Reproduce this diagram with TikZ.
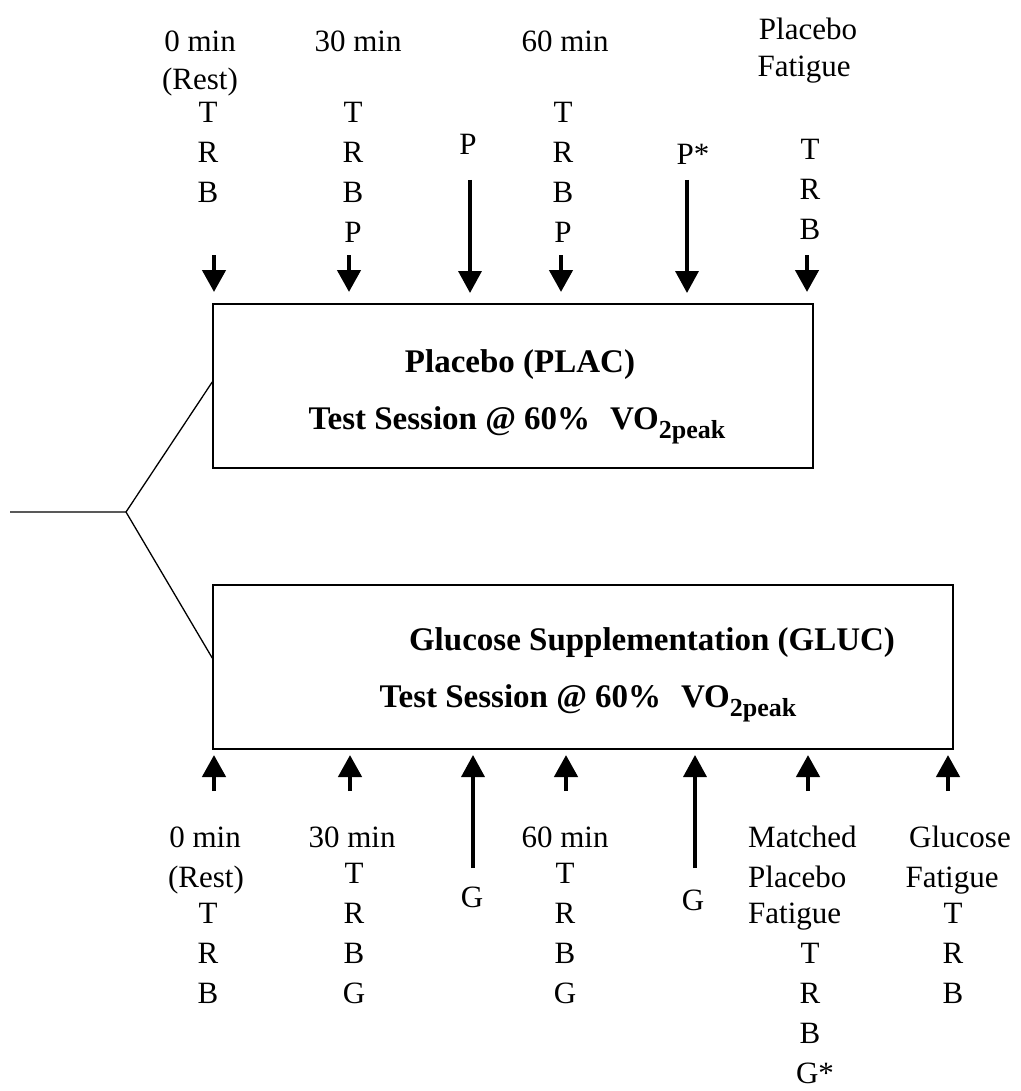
\documentclass[tikz,border=0pt]{standalone}
\usepackage{fontspec}
\setmainfont{Liberation Serif}
\usetikzlibrary{arrows.meta}
\newcommand{\vopeak}{VO\raisebox{-9pt}{\fontsize{26}{26}\selectfont 2peak}}
\begin{document}
\begin{tikzpicture}[x=1pt,y=-1pt,
  lbl/.style={inner sep=0pt, anchor=base, font=\fontsize{31}{40}\selectfont},
  lbll/.style={lbl, anchor=base west},
  boxtxt/.style={inner sep=0pt, font=\fontsize{33}{40}\selectfont\bfseries},
  sessbox/.style={draw, line width=1.5pt, inner sep=0pt},
  sarrow/.style={line width=4.5pt, -{Triangle[width=23pt,length=22pt]}},
  larrow/.style={line width=3.5pt, -{Triangle[width=23pt,length=22pt]}},
  branch/.style={line width=1.3pt}]
\useasboundingbox (0,0) rectangle (1020,1091);

% boxes
\node[sessbox, minimum width=600pt, minimum height=164pt] (plac) at (513,386) {};
\node[sessbox, minimum width=740pt, minimum height=164pt] (gluc) at (583,667) {};
\node[boxtxt] (plactitle) at (520,365) {Placebo (PLAC)};
\node[boxtxt] (plactest) at (517,425) {Test Session @ 60\%\hspace{0.6em}\vopeak};
\node[boxtxt] (gluctitle) at (652,643) {Glucose Supplementation (GLUC)};
\node[boxtxt] (gluctest) at (588,703) {Test Session @ 60\%\hspace{0.6em}\vopeak};

% branch
\coordinate (stem) at (10,512);
\coordinate (fork) at (126,512);
\draw[branch] (stem) -- (fork) -- ([yshift=4pt]plac.west);
\draw[branch] (fork) -- ([yshift=9pt]gluc.west);

% top labels
\node[lbl] (a0) at (200,52) {0 min};
\node[lbl] (a0r) at (200,90) {(Rest)};
\node[lbl] (a0t) at (208,123) {T};
\node[lbl] (a0rr) at (208,163) {R};
\node[lbl] (a0b) at (208,203) {B};

\node[lbl] (a30) at (358,52) {30 min};
\node[lbl] (a30t) at (353,123) {T};
\node[lbl] (a30r) at (353,163) {R};
\node[lbl] (a30b) at (353,203) {B};
\node[lbl] (a30p) at (353,243) {P};

\node[lbl] (ap) at (468,155) {P};

\node[lbl] (a60) at (565,52) {60 min};
\node[lbl] (a60t) at (563,123) {T};
\node[lbl] (a60r) at (563,163) {R};
\node[lbl] (a60b) at (563,203) {B};
\node[lbl] (a60p) at (563,243) {P};

\node[lbl] (aps) at (693,165) {P*};

\node[lbl] (apf1) at (808,40) {Placebo};
\node[lbl] (apf2) at (804,77) {Fatigue};
\node[lbl] (apft) at (810,160) {T};
\node[lbl] (apfr) at (810,200) {R};
\node[lbl] (apfb) at (810,240) {B};

% top arrows
\coordinate (t0s) at (214,255);  \coordinate (t0e) at (214,292);
\coordinate (t30s) at (349,255); \coordinate (t30e) at (349,292);
\coordinate (tps) at (470,180);  \coordinate (tpe) at (470,293);
\coordinate (t60s) at (561,255); \coordinate (t60e) at (561,292);
\coordinate (tpss) at (687,180); \coordinate (tpse) at (687,293);
\coordinate (tfs) at (807,255);  \coordinate (tfe) at (807,292);
\draw[sarrow] (t0s) -- (t0e);
\draw[sarrow] (t30s) -- (t30e);
\draw[larrow] (tps) -- (tpe);
\draw[sarrow] (t60s) -- (t60e);
\draw[larrow] (tpss) -- (tpse);
\draw[sarrow] (tfs) -- (tfe);

% bottom arrows
\coordinate (b0s) at (214,791);  \coordinate (b0e) at (214,755);
\coordinate (b30s) at (350,791); \coordinate (b30e) at (350,755);
\coordinate (bgs) at (473,868);  \coordinate (bge) at (473,755);
\coordinate (b60s) at (566,791); \coordinate (b60e) at (566,755);
\coordinate (bg2s) at (695,868); \coordinate (bg2e) at (695,755);
\coordinate (bms) at (808,791);  \coordinate (bme) at (808,755);
\coordinate (bfs) at (948,791);  \coordinate (bfe) at (948,755);
\draw[sarrow] (b0s) -- (b0e);
\draw[sarrow] (b30s) -- (b30e);
\draw[larrow] (bgs) -- (bge);
\draw[sarrow] (b60s) -- (b60e);
\draw[larrow] (bg2s) -- (bg2e);
\draw[sarrow] (bms) -- (bme);
\draw[sarrow] (bfs) -- (bfe);

% bottom labels
\node[lbl] (c0) at (205,847) {0 min};
\node[lbl] (c0r) at (206,887) {(Rest)};
\node[lbl] (c0t) at (208,923) {T};
\node[lbl] (c0rr) at (208,963) {R};
\node[lbl] (c0b) at (208,1003) {B};

\node[lbl] (c30) at (352,847) {30 min};
\node[lbl] (c30t) at (354,883) {T};
\node[lbl] (c30r) at (354,923) {R};
\node[lbl] (c30b) at (354,963) {B};
\node[lbl] (c30g) at (354,1003) {G};

\node[lbl] (cg) at (472,907) {G};

\node[lbl] (c60) at (565,847) {60 min};
\node[lbl] (c60t) at (565,883) {T};
\node[lbl] (c60r) at (565,923) {R};
\node[lbl] (c60b) at (565,963) {B};
\node[lbl] (c60g) at (565,1003) {G};

\node[lbl] (cg2) at (693,910) {G};

\node[lbll] (cm1) at (748,847) {Matched};
\node[lbll] (cm2) at (748,887) {Placebo};
\node[lbll] (cm3) at (748,923) {Fatigue};
\node[lbl] (cmt) at (810,963) {T};
\node[lbl] (cmr) at (810,1003) {R};
\node[lbl] (cmb) at (810,1043) {B};
\node[lbl] (cmg) at (815,1083) {G*};

\node[lbl] (cf1) at (960,847) {Glucose};
\node[lbl] (cf2) at (952,887) {Fatigue};
\node[lbl] (cft) at (953,923) {T};
\node[lbl] (cfr) at (953,963) {R};
\node[lbl] (cfb) at (953,1003) {B};
\end{tikzpicture}
\end{document}
